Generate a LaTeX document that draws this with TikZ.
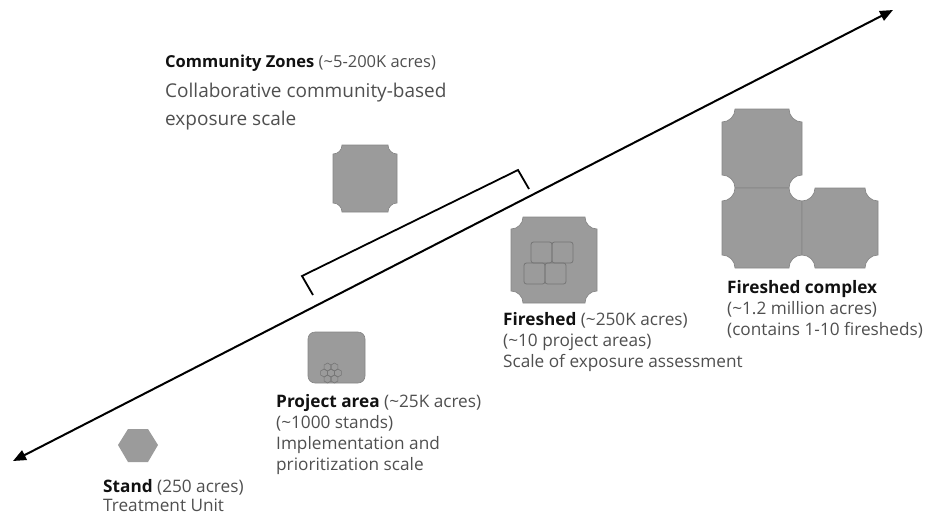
\documentclass[tikz,border=0pt]{standalone}
\usepackage{fontspec}
\setmainfont{Open Sans}
\usetikzlibrary{arrows.meta}
\definecolor{tilegray}{HTML}{9B9B9B}
\definecolor{tileedge}{HTML}{858585}
\definecolor{innerline}{HTML}{767676}
\definecolor{ink}{HTML}{111111}
\definecolor{note}{HTML}{4F4F4F}

% square with concave quarter-circle notches at its four corners
% #1,#2 = top-left corner, #3,#4 = bottom-right corner, #5 = notch radius
\newcommand\notchedsquare[5]{%
  ({#1+#5},#2) -- ({#3-#5},#2)
  .. controls ({#3-#5},{#2+0.552*#5}) and ({#3-0.552*#5},{#2+#5}) .. (#3,{#2+#5})
  -- (#3,{#4-#5})
  .. controls ({#3-0.552*#5},{#4-#5}) and ({#3-#5},{#4-0.552*#5}) .. ({#3-#5},#4)
  -- ({#1+#5},#4)
  .. controls ({#1+#5},{#4-0.552*#5}) and ({#1+0.552*#5},{#4-#5}) .. (#1,{#4-#5})
  -- (#1,{#2+#5})
  .. controls ({#1+0.552*#5},{#2+#5}) and ({#1+#5},{#2+0.552*#5}) .. cycle}

\begin{document}
\begin{tikzpicture}[x=1pt,y=-1pt,
  lbl/.style={anchor=base west,inner sep=0pt,text=note,font=\fontsize{17.2}{20}\selectfont},
  toplbl/.style={lbl,font=\fontsize{16.5}{20}\selectfont},
  biglbl/.style={lbl,font=\fontsize{19}{22}\selectfont},
  tile/.style={fill=tilegray,draw=tileedge,line width=0.6pt},
  cell/.style={draw=innerline,line width=0.8pt},
  scaleline/.style={line width=2pt,
    {Triangle[length=13pt,width=10.5pt]}-{Triangle[length=13pt,width=10.5pt]}},
  bracket/.style={line width=1.8pt,line join=miter}]
\useasboundingbox (0,0) rectangle (927,515);

% scale axis
\coordinate (lo) at (13,461);
\coordinate (hi) at (893,10);
\draw[scaleline] (lo) -- (hi);

% bracket spanning the community zone range
\coordinate (b1) at (313,295);
\coordinate (b2) at (302,276);
\coordinate (b3) at (518,170);
\coordinate (b4) at (529,189);
\draw[bracket] (b1) -- (b2) -- (b3) -- (b4);

% stand: a single hexagon
\fill[tilegray] (118,445) -- (128,429) -- (148,429) -- (158,445) -- (148,462) -- (128,462) -- cycle;

% project area: rounded tile holding a small cluster of stands
\filldraw[tile,rounded corners=7pt] (308,332) rectangle (365,383);
\foreach \ang in {0,60,...,300}
  \draw[cell,line width=0.6pt,shift={(331,373)},shift={(\ang:6.9)}]
    (30:4) -- (90:4) -- (150:4) -- (210:4) -- (270:4) -- (330:4) -- cycle;
\draw[cell,line width=0.6pt,shift={(331,373)}]
    (30:4) -- (90:4) -- (150:4) -- (210:4) -- (270:4) -- (330:4) -- cycle;

% community zone
\filldraw[tile] \notchedsquare{333}{145}{397}{212}{9};

% fireshed with its project areas
\filldraw[tile] \notchedsquare{511}{217}{597}{303}{12};
\draw[cell,rounded corners=2.5pt] (531,242) rectangle (552,263);
\draw[cell,rounded corners=2.5pt] (552,242) rectangle (573,263);
\draw[cell,rounded corners=2.5pt] (524,263) rectangle (545,284);
\draw[cell,rounded corners=2.5pt] (545,263) rectangle (566,284);

% fireshed complex: three firesheds
\filldraw[tile] \notchedsquare{722}{109}{802}{188}{13};
\filldraw[tile] \notchedsquare{722}{188}{802}{268}{13};
\filldraw[tile] \notchedsquare{802}{188}{878}{268}{13};

% labels
\node[toplbl] (cz1) at (165,67) {\textcolor{ink}{\bfseries Community Zones} (\textasciitilde5-200K acres)};
\node[biglbl] (cz2) at (165,97) {Collaborative community-based};
\node[biglbl] (cz3) at (165,125) {exposure scale};

\node[lbl] (st1) at (103,492) {\textcolor{ink}{\bfseries Stand} (250 acres)};
\node[lbl] (st2) at (103,511) {Treatment Unit};

\node[lbl] (pa1) at (276,407) {\textcolor{ink}{\bfseries Project area} (\textasciitilde25K acres)};
\node[lbl] (pa2) at (276,428) {(\textasciitilde1000 stands)};
\node[lbl] (pa3) at (276,449) {Implementation and};
\node[lbl] (pa4) at (276,470) {prioritization scale};

\node[lbl] (fs1) at (503,325) {\textcolor{ink}{\bfseries Fireshed} (\textasciitilde250K acres)};
\node[lbl] (fs2) at (503,346) {(\textasciitilde10 project areas)};
\node[lbl] (fs3) at (503,367) {Scale of exposure assessment};

\node[lbl] (fc1) at (727,293) {\textcolor{ink}{\bfseries Fireshed complex}};
\node[lbl] (fc2) at (727,314) {(\textasciitilde1.2 million acres)};
\node[lbl] (fc3) at (727,335) {(contains 1-10 firesheds)};
\end{tikzpicture}
\end{document}
